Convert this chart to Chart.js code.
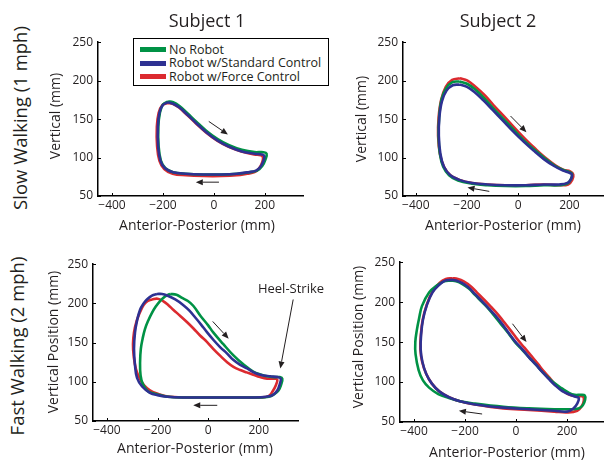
<!DOCTYPE html>
<html lang="en">
<head>
<meta charset="UTF-8">
<title>Foot trajectories</title>
<script src="https://cdn.jsdelivr.net/npm/chart.js@4"></script>
<style>
  body { margin: 0; background: #fff; }
  #wrap { position: relative; width: 604px; height: 462px; overflow: hidden; font-family: "Open Sans", sans-serif; color: #231f20; }
  canvas { position: absolute; }
  .lbl { position: absolute; white-space: nowrap; transform: translate(-50%, -50%); line-height: 1; }
  .rot { transform: translate(-50%, -50%) rotate(-90deg); }
  #legend { position: absolute; left: 133px; top: 38px; width: 194px; height: 46px; border: 1px solid #000; background: #fff; z-index: 5; }
  #legend div { position: absolute; left: 35px; font-size: 12.5px; line-height: 1; white-space: nowrap; }
  #legend span { position: absolute; left: 6px; width: 26px; height: 5px; }
</style>
</head>
<body>
<div id="wrap">
  <canvas id="c1"></canvas>
  <canvas id="c2"></canvas>
  <canvas id="c3"></canvas>
  <canvas id="c4"></canvas>
  <div id="legend"></div>
  <div class="lbl" style="left:207px;top:20px;font-size:18px">Subject 1</div>
  <div class="lbl" style="left:498px;top:20px;font-size:18px">Subject 2</div>
  <div class="lbl rot" style="left:20px;top:118px;font-size:18.5px">Slow Walking (1 mph)</div>
  <div class="lbl rot" style="left:17px;top:346px;font-size:18.5px">Fast Walking (2 mph)</div>
  <div class="lbl rot" style="left:55px;top:116px;font-size:14px">Vertical (mm)</div>
  <div class="lbl rot" style="left:361px;top:119px;font-size:14px">Vertical (mm)</div>
  <div class="lbl rot" style="left:53px;top:342px;font-size:14px">Vertical Position (mm)</div>
  <div class="lbl rot" style="left:358px;top:337px;font-size:14px">Vertical Position (mm)</div>
  <div class="lbl" style="left:197px;top:225px;font-size:14px">Anterior-Posterior (mm)</div>
  <div class="lbl" style="left:503px;top:225px;font-size:14px">Anterior-Posterior (mm)</div>
  <div class="lbl" style="left:195px;top:448px;font-size:14px">Anterior-Posterior (mm)</div>
  <div class="lbl" style="left:507px;top:452px;font-size:14px">Anterior-Posterior (mm)</div>
  <div class="lbl" style="left:291px;top:288px;font-size:13px">Heel-Strike</div>
</div>
<script>
  // series names, colours and tick labels
  var seriesNames = ['No Robot', 'Robot w/Standard Control', 'Robot w/Force Control'];
  var seriesColors = ['#009245', '#2e3192', '#dc2a2f'];
  var drawOrder = [1, 0, 2];   // blue on top
  var xTicks = [-400, -200, 0, 200];
  var yTicks = [50, 100, 150, 200, 250];

  // Subject 1, slow walking  [anterior-posterior, vertical] in mm
  var s1SlowNone = [[-180,173],[-160,172],[-135,167],[-105,158],[-70,147],[-30,135],[15,124],[60,116],[110,110],[160,107],[195,107],[207,105],[203,98],[190,89],[170,83],[140,81],[90,79],[30,78],[-40,78],[-110,79],[-160,81],[-190,86],[-208,96],[-217,115],[-218,140],[-212,158],[-200,169],[-180,173]];
  var s1SlowStd = [[-180,172],[-160,170],[-135,165],[-105,156],[-70,145],[-30,133],[15,122],[60,114],[110,108],[160,105],[190,104],[198,102],[195,96],[183,88],[165,83],[135,81],[90,79],[30,78],[-40,78],[-110,79],[-160,81],[-192,86],[-210,96],[-219,115],[-220,140],[-214,158],[-201,168],[-180,172]];
  var s1SlowForce = [[-182,171],[-162,170],[-137,165],[-107,156],[-72,145],[-32,133],[13,122],[58,114],[108,108],[158,104],[185,103],[193,100],[190,94],[178,86],[160,81],[130,79],[90,77],[30,76],[-40,76],[-110,77],[-162,79],[-195,85],[-214,96],[-223,115],[-224,140],[-217,158],[-203,168],[-182,171]];

  // Subject 2, slow walking
  var s2SlowNone = [[-230,199],[-200,196],[-170,189],[-135,178],[-100,165],[-60,151],[-20,137],[20,123],[60,111],[100,100],[140,90],[175,84],[200,81],[210,79],[206,72],[192,66],[160,64],[100,64],[30,63],[-50,63],[-120,64],[-180,66],[-235,70],[-270,77],[-293,88],[-306,105],[-311,128],[-309,152],[-300,175],[-282,190],[-257,198],[-230,199]];
  var s2SlowStd = [[-230,195],[-200,192],[-170,185],[-135,174],[-100,162],[-60,148],[-20,134],[20,121],[60,109],[100,98],[140,89],[175,83],[200,80],[210,78],[206,72],[192,67],[160,65],[100,65],[30,64],[-50,64],[-120,65],[-180,67],[-230,71],[-265,77],[-290,88],[-304,105],[-310,128],[-308,152],[-298,173],[-280,187],[-256,194],[-230,195]];
  var s2SlowForce = [[-228,203],[-198,200],[-167,192],[-131,181],[-96,168],[-56,154],[-15,139],[25,125],[65,112],[105,100],[145,90],[178,84],[203,82],[215,78],[211,71],[195,65],[160,64],[100,65],[30,64],[-50,64],[-120,65],[-180,67],[-230,71],[-265,77],[-290,88],[-306,105],[-313,128],[-311,152],[-301,175],[-283,192],[-258,201],[-228,203]];

  // Subject 1, fast walking
  var s1FastNone = [[-150,212],[-125,211],[-103,207],[-80,203],[-59,197],[-30,184],[0,172],[20,163],[60,148],[99,134],[140,122],[178,113],[210,109],[233,107],[260,106],[283,106],[293,104],[288,96],[278,89],[260,84],[240,81],[200,80],[100,80],[0,80],[-100,80],[-160,81],[-190,83],[-215,85],[-238,88],[-258,97],[-267,108],[-269,125],[-266,142],[-259,155],[-250,167],[-237,178],[-222,188],[-207,196],[-190,203],[-170,209],[-150,212]];
  var s1FastStd = [[-202,212],[-182,212],[-162,210],[-130,205],[-99,198],[-75,191],[-51,182],[-28,173],[-4,163],[22,153],[48,144],[75,136],[99,128],[125,122],[154,117],[180,112],[206,109],[245,107],[275,106],[287,104],[283,97],[273,89],[255,83],[230,81],[180,80],[100,80],[0,80],[-100,80],[-162,81],[-200,83],[-230,86],[-261,94],[-281,105],[-289,121],[-293,142],[-289,163],[-281,178],[-269,192],[-255,200],[-242,205],[-222,210],[-202,212]];
  var s1FastForce = [[-222,205],[-200,206],[-178,203],[-158,198],[-138,192],[-110,184],[-83,176],[-58,168],[-32,159],[-5,151],[20,142],[48,133],[75,125],[100,119],[127,115],[152,112],[178,109],[205,106],[233,104],[258,104],[273,103],[268,96],[255,88],[240,82],[210,80],[150,80],[50,80],[-50,80],[-150,81],[-202,85],[-230,89],[-252,95],[-270,104],[-285,116],[-294,132],[-297,148],[-293,163],[-283,177],[-269,189],[-255,198],[-240,203],[-222,205]];

  // Subject 2, fast walking
  var s2FastNone = [[-255,227],[-235,226],[-212,223],[-185,217],[-161,209],[-133,200],[-106,191],[-80,181],[-55,171],[-30,161],[-4,150],[25,140],[51,131],[77,122],[102,113],[128,105],[153,98],[180,92],[205,87],[230,84],[255,84],[270,83],[271,78],[262,71],[245,67],[210,66],[150,66],[50,67],[-50,69],[-161,73],[-220,76],[-263,80],[-305,85],[-341,93],[-365,102],[-382,115],[-394,135],[-395,150],[-389,165],[-380,180],[-369,195],[-341,212],[-310,221],[-282,226],[-255,227]];
  var s2FastStd = [[-255,228],[-235,227],[-212,224],[-185,218],[-161,210],[-133,201],[-106,192],[-80,183],[-55,173],[-30,162],[-4,151],[25,141],[51,131],[77,122],[102,113],[128,104],[153,96],[180,89],[205,85],[230,82],[246,80],[240,73],[225,67],[200,63],[150,64],[50,66],[-50,68],[-161,72],[-220,76],[-263,81],[-300,88],[-330,98],[-352,110],[-367,125],[-374,141],[-372,160],[-365,178],[-350,196],[-328,212],[-300,222],[-278,227],[-255,228]];
  var s2FastForce = [[-250,230],[-228,229],[-205,226],[-178,220],[-153,212],[-125,203],[-98,194],[-72,185],[-47,175],[-22,165],[4,154],[33,143],[59,133],[85,123],[110,113],[135,104],[158,96],[184,89],[210,84],[240,82],[262,82],[266,77],[258,70],[240,64],[200,62],[150,63],[50,65],[-50,67],[-161,72],[-220,76],[-263,81],[-300,88],[-330,98],[-352,110],[-368,125],[-375,141],[-373,160],[-366,178],[-351,196],[-328,213],[-300,224],[-275,229],[-250,230]];

  // direction arrows [fromX, fromY, toX, toY] in data units
  var s1SlowArrows = [[-20,147,55,130],[20,68,-71,68]];
  var s2SlowArrows = [[-30,154,32,133],[-113,56,-198,61]];
  var s1FastArrows = [[18,177,81,155],[36,70,-59,70],[336,205,285,117]];
  var s2FastArrows = [[-14,173,41,150],[-133,60,-224,64]];

  var fontFamily = '"Open Sans", sans-serif';

  // legend
  var legend = document.getElementById('legend');
  seriesNames.forEach(function (name, i) {
    var y = 7 + i * 13.5;
    legend.innerHTML += '<span style="top:' + (y + 1) + 'px;background:' + seriesColors[i] + '"></span>' +
      '<div style="top:' + (y - 2.5) + 'px">' + name + '</div>';
  });

  function fmt(v) { return v < 0 ? '\u2212' + (-v) : String(v); }

  var axisMarks = {
    id: 'axisMarks',
    afterDatasetsDraw: function (chart, args, opts) {
      var c = chart.ctx, xs = chart.scales.x, ys = chart.scales.y, a = chart.chartArea;
      c.save();
      c.strokeStyle = '#000';
      c.lineWidth = 1;
      xTicks.forEach(function (v) {
        var p = Math.round(xs.getPixelForValue(v)) + 0.5;
        c.beginPath(); c.moveTo(p, a.bottom); c.lineTo(p, a.bottom - 3); c.stroke();
      });
      yTicks.forEach(function (v) {
        var p = Math.round(ys.getPixelForValue(v)) + 0.5;
        c.beginPath(); c.moveTo(a.left, p); c.lineTo(a.left + 3, p); c.stroke();
      });
      // arrows
      c.strokeStyle = '#231f20';
      c.fillStyle = '#231f20';
      (opts.list || []).forEach(function (ar) {
        var x1 = xs.getPixelForValue(ar[0]), y1 = ys.getPixelForValue(ar[1]);
        var x2 = xs.getPixelForValue(ar[2]), y2 = ys.getPixelForValue(ar[3]);
        var ang = Math.atan2(y2 - y1, x2 - x1), hl = 7, hw = 3;
        var bx = x2 - hl * Math.cos(ang), by = y2 - hl * Math.sin(ang);
        c.beginPath(); c.moveTo(x1, y1); c.lineTo(bx, by); c.stroke();
        c.beginPath();
        c.moveTo(x2, y2);
        c.lineTo(bx + hw * Math.sin(ang), by - hw * Math.cos(ang));
        c.lineTo(bx - hw * Math.sin(ang), by + hw * Math.cos(ang));
        c.closePath(); c.fill();
      });
      c.restore();
    }
  };

  function panel(id, box, area, xMin, xMax, sets, arrows) {
    var cv = document.getElementById(id);
    cv.style.left = box.x + 'px';
    cv.style.top = box.y + 'px';
    cv.width = box.w; cv.height = box.h;
    cv.style.width = box.w + 'px'; cv.style.height = box.h + 'px';
    new Chart(cv, {
      type: 'scatter',
      data: {
        datasets: sets.map(function (pts, i) {
          return {
            label: seriesNames[i],
            data: pts.map(function (p) { return { x: p[0], y: p[1] }; }),
            showLine: true,
            borderColor: seriesColors[i],
            borderWidth: 2.6,
            pointRadius: 0,
            tension: 0.4,
            fill: false,
            order: drawOrder[i]
          };
        })
      },
      options: {
        responsive: false,
        animation: false,
        devicePixelRatio: 1,
        layout: {
          autoPadding: false,
          padding: { left: 0, bottom: 0, top: area.t - box.y, right: box.x + box.w - area.r }
        },
        plugins: {
          legend: { display: false },
          tooltip: { enabled: false },
          axisMarks: { list: arrows }
        },
        scales: {
          x: {
            type: 'linear', min: xMin, max: xMax,
            grid: { display: false, drawTicks: false },
            border: { display: true, color: '#000', width: 1.5 },
            afterBuildTicks: function (s) { s.ticks = xTicks.map(function (v) { return { value: v }; }); },
            afterFit: function (s) { s.height = box.y + box.h - area.b; },
            ticks: { font: { family: fontFamily, size: 12 }, color: '#231f20', padding: 2, maxRotation: 0, autoSkip: false, callback: fmt }
          },
          y: {
            type: 'linear', min: 50, max: 250,
            grid: { display: false, drawTicks: false },
            border: { display: true, color: '#000', width: 1.5 },
            afterBuildTicks: function (s) { s.ticks = yTicks.map(function (v) { return { value: v }; }); },
            afterFit: function (s) { s.width = area.l - box.x; },
            ticks: { font: { family: fontFamily, size: 12 }, color: '#231f20', padding: 5, autoSkip: false, callback: fmt }
          }
        }
      },
      plugins: [axisMarks]
    });
  }

  panel('c1', { x: 40, y: 30, w: 270, h: 200 }, { l: 98, t: 38, r: 303, b: 196 }, -455, 350,
        [s1SlowNone, s1SlowStd, s1SlowForce], s1SlowArrows);
  panel('c2', { x: 345, y: 30, w: 259, h: 200 }, { l: 403, t: 39, r: 604, b: 196 }, -450, 335,
        [s2SlowNone, s2SlowStd, s2SlowForce], s2SlowArrows);
  panel('c3', { x: 35, y: 252, w: 310, h: 190 }, { l: 93, t: 262, r: 298, b: 421 }, -455, 355,
        [s1FastNone, s1FastStd, s1FastForce], s1FastArrows);
  panel('c4', { x: 345, y: 250, w: 259, h: 195 }, { l: 400, t: 260, r: 604, b: 422 }, -455, 345,
        [s2FastNone, s2FastStd, s2FastForce], s2FastArrows);
</script>
</body>
</html>
